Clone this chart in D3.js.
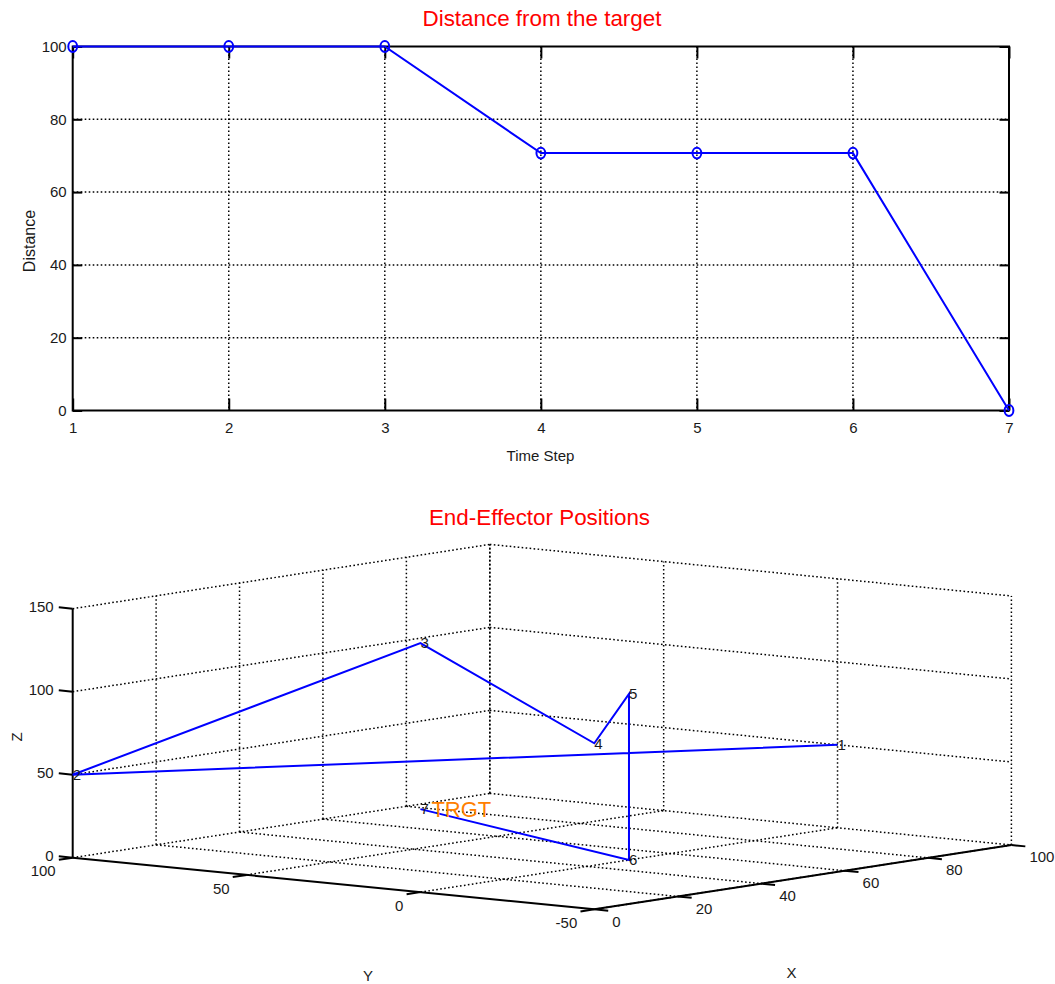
<!DOCTYPE html>
<html>
<head>
<meta charset="utf-8">
<script src="https://cdn.jsdelivr.net/npm/d3@7"></script>
<style>
  body { margin: 0; background: #fff; }
  svg text { font-family: "Liberation Sans", Arial, Helvetica, sans-serif; }
</style>
</head>
<body>
<svg id="chart" width="1055" height="984"></svg>
<script>
// ---- distance-to-target history ----
const timeSteps = [1, 2, 3, 4, 5, 6, 7];
const distances = [100, 100, 100, 70.71, 70.71, 70.71, 0];
const distXTicks = [1, 2, 3, 4, 5, 6, 7];
const distYTicks = [0, 20, 40, 60, 80, 100];

// ---- end-effector positions, one per time step ----
const posX = [100, 0, 0, 0, 50, 50, 0];
const posY = [0, 100, 0, -50, 0, 0, 0];
const posZ = [50, 50, 150, 100, 100, 0, 50];
const posLabels = ["1", "2", "3", "4", "5", "6", "7"];
const targetPos = [0, 0, 50];
const targetLabel = "TRGT";
const xTicks3 = [0, 20, 40, 60, 80, 100];
const yTicks3 = [100, 50, 0, -50];
const zTicks3 = [0, 50, 100, 150];

const svg = d3.select("#chart");
const BLUE = "#0000ff";
const GRID_DASH = "1.6,2.4";
const GRID_W = 1.5;

// ================= 2-D plot: distance vs time step =================
const L = 72.7, R = 1009, T = 46.5, B = 410.5;
const x = d3.scaleLinear().domain([1, 7]).range([L, R]);
const y = d3.scaleLinear().domain([0, 100]).range([B, T]);

const gTop = svg.append("g");

// dotted grid
const gridTop = gTop.append("g");
gridTop.append("g").selectAll("line").data(distXTicks.filter(d => d > 1 && d < 7)).join("line")
  .attr("x1", d => x(d)).attr("x2", d => x(d)).attr("y1", T).attr("y2", B);
gridTop.append("g").selectAll("line").data(distYTicks.filter(d => d > 0 && d < 100)).join("line")
  .attr("x1", L).attr("x2", R).attr("y1", d => y(d)).attr("y2", d => y(d));
gridTop.selectAll("line").attr("stroke", "#000").attr("stroke-width", GRID_W)
  .attr("stroke-dasharray", GRID_DASH);

// axes with inward ticks on all four sides
function styleAxis(sel) {
  sel.select(".domain").remove();
  sel.selectAll(".tick line").attr("stroke", "#000").attr("stroke-width", 2);
  sel.selectAll(".tick text").attr("fill", "#1a1a1a").style("font-size", "15px")
     .style("font-family", '"Liberation Sans", Arial, sans-serif');
}
gTop.append("g").attr("transform", `translate(0,${B})`)
  .call(d3.axisBottom(x).tickValues(distXTicks).tickFormat(d3.format("d"))
        .tickSizeInner(-12).tickSizeOuter(0).tickPadding(12)).call(styleAxis);
gTop.append("g").attr("transform", `translate(0,${T})`)
  .call(d3.axisTop(x).tickValues(distXTicks).tickFormat("")
        .tickSizeInner(-12).tickSizeOuter(0)).call(styleAxis);
gTop.append("g").attr("transform", `translate(${L},0)`)
  .call(d3.axisLeft(y).tickValues(distYTicks).tickFormat(d3.format("d"))
        .tickSizeInner(-9.5).tickSizeOuter(0).tickPadding(6)).call(styleAxis);
gTop.append("g").attr("transform", `translate(${R},0)`)
  .call(d3.axisRight(y).tickValues(distYTicks).tickFormat("")
        .tickSizeInner(-9.5).tickSizeOuter(0)).call(styleAxis);

// frame
gTop.append("rect").attr("x", L).attr("y", T).attr("width", R - L).attr("height", B - T)
  .attr("fill", "none").attr("stroke", "#000").attr("stroke-width", 2);

// data line with open circle markers
const distLine = d3.line().x((d, i) => x(timeSteps[i])).y(d => y(d));
gTop.append("path").datum(distances).attr("d", distLine)
  .attr("fill", "none").attr("stroke", BLUE).attr("stroke-width", 2);
gTop.append("g").selectAll("ellipse").data(distances).join("ellipse")
  .attr("cx", (d, i) => x(timeSteps[i])).attr("cy", d => y(d))
  .attr("rx", 4.4).attr("ry", 5.4)
  .attr("fill", "none").attr("stroke", BLUE).attr("stroke-width", 2);

// titles / labels
gTop.append("text").attr("x", 542).attr("y", 26).attr("text-anchor", "middle")
  .attr("fill", "#ff0000").style("font-size", "22.4px").text("Distance from the target");
gTop.append("text").attr("x", 540.5).attr("y", 461).attr("text-anchor", "middle")
  .attr("fill", "#1a1a1a").style("font-size", "15px").text("Time Step");
gTop.append("text").attr("transform", "translate(35,241) rotate(-90)").attr("text-anchor", "middle")
  .attr("fill", "#1a1a1a").style("font-size", "16px").text("Distance");

// ================= 3-D plot: end-effector path =================
// orthographic projection: box corner (x=0, y=100, z=0) plus scaled axis vectors
const O = [72.7, 857.7];
const EX = [417.1, -64.3];   // x: 0 -> 100
const EY = [521.6, 51.6];    // y: 100 -> -50
const EZ = [0, -249];        // z: 0 -> 150
const sx = d3.scaleLinear().domain([0, 100]).range([0, 1]);
const sy = d3.scaleLinear().domain([100, -50]).range([0, 1]);
const sz = d3.scaleLinear().domain([0, 150]).range([0, 1]);
function P(a, b, c) {
  const u = sx(a), v = sy(b), w = sz(c);
  return [O[0] + u * EX[0] + v * EY[0] + w * EZ[0],
          O[1] + u * EX[1] + v * EY[1] + w * EZ[1]];
}
function unit(v, s) { const n = Math.hypot(v[0], v[1]); return [s * v[0] / n, s * v[1] / n]; }

const gBot = svg.append("g");
const [x0, x1] = sx.domain(), [y0, y1] = sy.domain(), [z0, z1] = sz.domain();

// grid segments on the floor and the two back walls
const seg = [];
xTicks3.filter(t => t !== x0).forEach(t => {
  seg.push([P(t, y0, z0), P(t, y1, z0)]);      // floor
  seg.push([P(t, y0, z0), P(t, y0, z1)]);      // back wall y = 100
});
yTicks3.forEach(t => {
  seg.push([P(x0, t, z0), P(x1, t, z0)]);      // floor
  seg.push([P(x1, t, z0), P(x1, t, z1)]);      // back wall x = 100
});
zTicks3.filter(t => t !== z0).forEach(t => {
  seg.push([P(x0, y0, t), P(x1, y0, t)]);
  seg.push([P(x1, y0, t), P(x1, y1, t)]);
});
gBot.append("g").selectAll("line").data(seg).join("line")
  .attr("x1", d => d[0][0]).attr("y1", d => d[0][1])
  .attr("x2", d => d[1][0]).attr("y2", d => d[1][1])
  .attr("stroke", "#000").attr("stroke-width", GRID_W).attr("stroke-dasharray", GRID_DASH);

// solid axis edges
const axesSeg = [
  [P(x0, y0, z0), P(x0, y0, z1)],   // z
  [P(x0, y0, z0), P(x0, y1, z0)],   // y
  [P(x0, y1, z0), P(x1, y1, z0)]    // x
];
gBot.append("g").selectAll("line").data(axesSeg).join("line")
  .attr("x1", d => d[0][0]).attr("y1", d => d[0][1])
  .attr("x2", d => d[1][0]).attr("y2", d => d[1][1])
  .attr("stroke", "#000").attr("stroke-width", 2);

// outward tick marks
const TL = 14;
const zDir = unit([-EY[0], -EY[1]], TL), yDir = unit([-EX[0], -EX[1]], TL), xDir = unit(EY, TL);
const ticks = [];
zTicks3.forEach(t => { const p = P(x0, y0, t); ticks.push([p, [p[0] + zDir[0], p[1] + zDir[1]]]); });
yTicks3.forEach(t => { const p = P(x0, t, z0); ticks.push([p, [p[0] + yDir[0], p[1] + yDir[1]]]); });
xTicks3.forEach(t => { const p = P(t, y1, z0); ticks.push([p, [p[0] + xDir[0], p[1] + xDir[1]]]); });
gBot.append("g").selectAll("line").data(ticks).join("line")
  .attr("x1", d => d[0][0]).attr("y1", d => d[0][1])
  .attr("x2", d => d[1][0]).attr("y2", d => d[1][1])
  .attr("stroke", "#000").attr("stroke-width", 2);

// tick labels
const lab = gBot.append("g").attr("fill", "#1a1a1a").style("font-size", "15px");
zTicks3.forEach(t => { const p = P(x0, y0, t);
  lab.append("text").attr("x", p[0] - 19).attr("y", p[1] - 1.5).attr("dy", "0.35em")
     .attr("text-anchor", "end").text(t); });
yTicks3.forEach(t => { const p = P(x0, t, z0);
  lab.append("text").attr("x", p[0] - 17).attr("y", p[1] + 13.5).attr("dy", "0.35em")
     .attr("text-anchor", "end").text(t); });
xTicks3.forEach(t => { const p = P(t, y1, z0);
  lab.append("text").attr("x", p[0] + 18).attr("y", p[1] + 12).attr("dy", "0.35em")
     .attr("text-anchor", "start").text(t); });

// axis titles
lab.append("text").attr("x", 791.5).attr("y", 973).attr("dy", "0.35em").attr("text-anchor", "middle").text("X");
lab.append("text").attr("x", 368).attr("y", 976).attr("dy", "0.35em").attr("text-anchor", "middle").text("Y");
lab.append("text").attr("transform", "translate(17,737) rotate(-90)").attr("dy", "0.35em")
   .attr("text-anchor", "middle").text("Z");

// end-effector path
const pts = posX.map((d, i) => P(posX[i], posY[i], posZ[i]));
gBot.append("path").datum(pts).attr("d", d3.line())
  .attr("fill", "none").attr("stroke", BLUE).attr("stroke-width", 2);

// step numbers at each position
gBot.append("g").selectAll("text").data(pts).join("text")
  .attr("x", d => d[0]).attr("y", d => d[1]).attr("dy", "0.35em")
  .attr("fill", "#1a1a1a").style("font-size", "15px")
  .text((d, i) => posLabels[i]);

// target marker
const tp = P(targetPos[0], targetPos[1], targetPos[2]);
gBot.append("text").attr("x", tp[0] + 11).attr("y", tp[1]).attr("dy", "0.35em")
  .attr("fill", "#ff8000").style("font-size", "22px").text(targetLabel);

gBot.append("text").attr("x", 539.5).attr("y", 525).attr("text-anchor", "middle")
  .attr("fill", "#ff0000").style("font-size", "22.4px").text("End-Effector Positions");
</script>
</body>
</html>
